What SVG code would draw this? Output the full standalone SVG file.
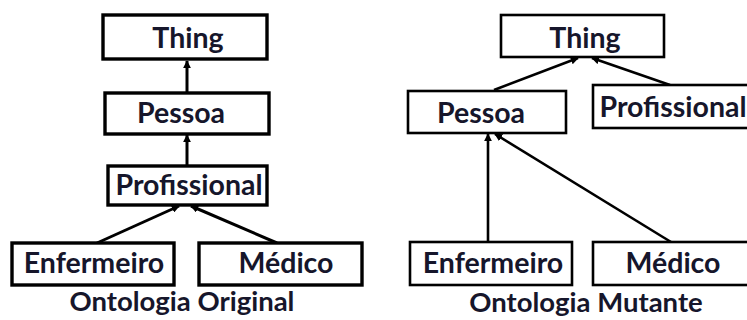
<svg xmlns="http://www.w3.org/2000/svg" width="747" height="320" viewBox="0 0 747 320">
  <style>
    .box { fill: #ffffff; stroke: #000000; }
    .l .box { stroke-width: 3.4; }
    .r .box { stroke-width: 2.6; }
    .lbl { font-family: Lato, "Open Sans", "Liberation Sans", sans-serif; font-weight: 700; font-size: 28.5px; fill: #16162b; text-anchor: middle; }
    .cap { font-family: Lato, "Open Sans", "Liberation Sans", sans-serif; font-weight: 700; font-size: 27.5px; fill: #16162b; text-anchor: middle; }
    .edge { stroke: #000000; fill: none; marker-end: url(#head); }
    .l .edge { stroke-width: 3; }
    .r .edge { stroke-width: 2.6; }
  </style>
  <defs>
    <marker id="head" viewBox="0 0 10 10" refX="9" refY="5" markerWidth="8" markerHeight="8" markerUnits="userSpaceOnUse" orient="auto">
      <path d="M0,0 L10,5 L0,10 z" fill="#000000"/>
    </marker>
  </defs>

  <rect width="747" height="320" fill="#ffffff"/>

  <!-- original ontology -->
  <g class="l">
    <g id="connectors-original">
      <line class="edge" x1="187" y1="93" x2="187" y2="61"/>
      <line class="edge" x1="187" y1="166" x2="187" y2="135"/>
      <line class="edge" x1="97" y1="243" x2="179" y2="206"/>
      <line class="edge" x1="277" y1="243" x2="191" y2="206"/>
    </g>
    <g id="o-thing">
      <rect class="box" x="103" y="15" width="164" height="44"/>
      <text class="lbl" x="188" y="48">Thing</text>
    </g>
    <g id="o-pessoa">
      <rect class="box" x="105" y="93" width="164" height="41"/>
      <text class="lbl" x="181" y="123">Pessoa</text>
    </g>
    <g id="o-profissional">
      <rect class="box" x="108" y="166" width="159" height="39"/>
      <text class="lbl" x="189" y="195">Profissional</text>
    </g>
    <g id="o-enfermeiro">
      <rect class="box" x="12" y="243" width="162" height="42"/>
      <text class="lbl" x="94" y="273">Enfermeiro</text>
    </g>
    <g id="o-medico">
      <rect class="box" x="199" y="243" width="163" height="42"/>
      <text class="lbl" x="286" y="273">Médico</text>
    </g>
    <text class="cap" x="182" y="311">Ontologia Original</text>
  </g>

  <!-- mutant ontology -->
  <g class="r">
    <g id="connectors-mutant">
      <line class="edge" x1="494" y1="90" x2="578" y2="58"/>
      <line class="edge" x1="670" y1="85" x2="592" y2="58"/>
      <line class="edge" x1="488" y1="242" x2="488" y2="134"/>
      <line class="edge" x1="671" y1="242" x2="495" y2="134"/>
    </g>
    <g id="m-thing">
      <rect class="box" x="501" y="15" width="163" height="42"/>
      <text class="lbl" x="585" y="48">Thing</text>
    </g>
    <g id="m-pessoa">
      <rect class="box" x="408" y="91" width="158" height="42"/>
      <text class="lbl" x="481" y="123">Pessoa</text>
    </g>
    <g id="m-profissional">
      <rect class="box" x="593" y="85" width="160" height="43"/>
      <text class="lbl" x="673" y="117">Profissional</text>
    </g>
    <g id="m-enfermeiro">
      <rect class="box" x="410" y="242" width="162" height="43"/>
      <text class="lbl" x="493" y="273">Enfermeiro</text>
    </g>
    <g id="m-medico">
      <rect class="box" x="593" y="242" width="160" height="43"/>
      <text class="lbl" x="673" y="273">Médico</text>
    </g>
    <text class="cap" x="586" y="312">Ontologia Mutante</text>
  </g>
</svg>
